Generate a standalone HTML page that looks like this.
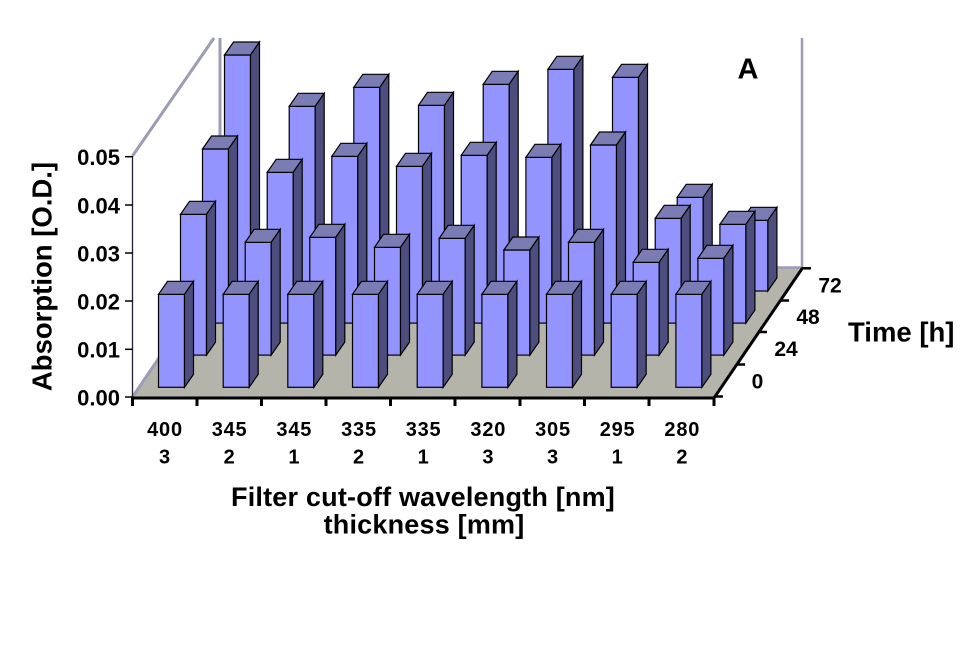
<!DOCTYPE html>
<html><head><meta charset="utf-8"><style>
html,body{margin:0;padding:0;background:#fff;}
svg{display:block;}
text{font-family:"Liberation Sans",Arial,sans-serif;font-weight:bold;fill:#000;}
.f{fill:#9494FF;stroke:#000;stroke-width:1.2;}
.t{fill:#7C7CB4;stroke:#000;stroke-width:1.2;}
.s{fill:#4E4E7E;stroke:#000;stroke-width:1.2;}
</style></head><body>
<svg width="975" height="650" viewBox="0 0 975 650" xmlns="http://www.w3.org/2000/svg">
<rect width="975" height="650" fill="#fff"/>
<!-- floor -->
<polygon points="132,397 714,397 802,268 220,268" fill="#B4B4AA"/>
<!-- walls -->
<g stroke="#9C9CB6" fill="none">
<line x1="132.5" y1="156" x2="214" y2="38" stroke-width="3"/>
<line x1="220" y1="38" x2="220" y2="268" stroke-width="3"/>
<line x1="132.5" y1="397" x2="220" y2="268" stroke-width="3"/>
<line x1="220" y1="267.5" x2="802" y2="267.5" stroke-width="2.5"/>
<line x1="802" y1="38" x2="802" y2="268" stroke-width="2.5"/>
</g>
<!-- y axis -->
<line x1="132.5" y1="156" x2="132.5" y2="398" stroke="#222233" stroke-width="1.3"/>
<g stroke="#000" stroke-width="1.5">
<line x1="125" y1="156.7" x2="133" y2="156.7"/>
<line x1="125" y1="205" x2="133" y2="205"/>
<line x1="125" y1="253" x2="133" y2="253"/>
<line x1="125" y1="301" x2="133" y2="301"/>
<line x1="125" y1="349.3" x2="133" y2="349.3"/>
<line x1="125" y1="397" x2="133" y2="397"/>
</g>

<!-- Row 3 (72h) -->
<g transform="translate(224.5,291)"><rect class="f" y="-236" width="26" height="236"/><polygon class="t" points="0,-236 9,-249 35,-249 26,-236"/><polygon class="s" points="26,-236 35,-249 35,-13 26,0"/></g>
<g transform="translate(289.2,291)"><rect class="f" y="-184.7" width="26" height="184.7"/><polygon class="t" points="0,-184.7 9,-197.7 35,-197.7 26,-184.7"/><polygon class="s" points="26,-184.7 35,-197.7 35,-13 26,0"/></g>
<g transform="translate(353.8,291)"><rect class="f" y="-203.7" width="26" height="203.7"/><polygon class="t" points="0,-203.7 9,-216.7 35,-216.7 26,-203.7"/><polygon class="s" points="26,-203.7 35,-216.7 35,-13 26,0"/></g>
<g transform="translate(418.5,291)"><rect class="f" y="-185.7" width="26" height="185.7"/><polygon class="t" points="0,-185.7 9,-198.7 35,-198.7 26,-185.7"/><polygon class="s" points="26,-185.7 35,-198.7 35,-13 26,0"/></g>
<g transform="translate(483.2,291)"><rect class="f" y="-206.7" width="26" height="206.7"/><polygon class="t" points="0,-206.7 9,-219.7 35,-219.7 26,-206.7"/><polygon class="s" points="26,-206.7 35,-219.7 35,-13 26,0"/></g>
<g transform="translate(547.9,291)"><rect class="f" y="-221.7" width="26" height="221.7"/><polygon class="t" points="0,-221.7 9,-234.7 35,-234.7 26,-221.7"/><polygon class="s" points="26,-221.7 35,-234.7 35,-13 26,0"/></g>
<g transform="translate(612.5,291)"><rect class="f" y="-213.7" width="26" height="213.7"/><polygon class="t" points="0,-213.7 9,-226.7 35,-226.7 26,-213.7"/><polygon class="s" points="26,-213.7 35,-226.7 35,-13 26,0"/></g>
<g transform="translate(677.2,291)"><rect class="f" y="-93.7" width="26" height="93.7"/><polygon class="t" points="0,-93.7 9,-106.7 35,-106.7 26,-93.7"/><polygon class="s" points="26,-93.7 35,-106.7 35,-13 26,0"/></g>
<g transform="translate(741.9,291)"><rect class="f" y="-70.7" width="26" height="70.7"/><polygon class="t" points="0,-70.7 9,-83.7 35,-83.7 26,-70.7"/><polygon class="s" points="26,-70.7 35,-83.7 35,-13 26,0"/></g>

<!-- Row 2 (48h) -->
<g transform="translate(202.5,323.1)"><rect class="f" y="-174.1" width="26" height="174.1"/><polygon class="t" points="0,-174.1 9,-187.1 35,-187.1 26,-174.1"/><polygon class="s" points="26,-174.1 35,-187.1 35,-13 26,0"/></g>
<g transform="translate(267.2,323.1)"><rect class="f" y="-150.8" width="26" height="150.8"/><polygon class="t" points="0,-150.8 9,-163.8 35,-163.8 26,-150.8"/><polygon class="s" points="26,-150.8 35,-163.8 35,-13 26,0"/></g>
<g transform="translate(331.8,323.1)"><rect class="f" y="-166.8" width="26" height="166.8"/><polygon class="t" points="0,-166.8 9,-179.8 35,-179.8 26,-166.8"/><polygon class="s" points="26,-166.8 35,-179.8 35,-13 26,0"/></g>
<g transform="translate(396.5,323.1)"><rect class="f" y="-156.8" width="26" height="156.8"/><polygon class="t" points="0,-156.8 9,-169.8 35,-169.8 26,-156.8"/><polygon class="s" points="26,-156.8 35,-169.8 35,-13 26,0"/></g>
<g transform="translate(461.2,323.1)"><rect class="f" y="-167.8" width="26" height="167.8"/><polygon class="t" points="0,-167.8 9,-180.8 35,-180.8 26,-167.8"/><polygon class="s" points="26,-167.8 35,-180.8 35,-13 26,0"/></g>
<g transform="translate(525.9,323.1)"><rect class="f" y="-165.8" width="26" height="165.8"/><polygon class="t" points="0,-165.8 9,-178.8 35,-178.8 26,-165.8"/><polygon class="s" points="26,-165.8 35,-178.8 35,-13 26,0"/></g>
<g transform="translate(590.5,323.1)"><rect class="f" y="-178.1" width="26" height="178.1"/><polygon class="t" points="0,-178.1 9,-191.1 35,-191.1 26,-178.1"/><polygon class="s" points="26,-178.1 35,-191.1 35,-13 26,0"/></g>
<g transform="translate(655.2,323.1)"><rect class="f" y="-104.8" width="26" height="104.8"/><polygon class="t" points="0,-104.8 9,-117.8 35,-117.8 26,-104.8"/><polygon class="s" points="26,-104.8 35,-117.8 35,-13 26,0"/></g>
<g transform="translate(719.9,323.1)"><rect class="f" y="-98.8" width="26" height="98.8"/><polygon class="t" points="0,-98.8 9,-111.8 35,-111.8 26,-98.8"/><polygon class="s" points="26,-98.8 35,-111.8 35,-13 26,0"/></g>

<!-- Row 1 (24h) -->
<g transform="translate(180.5,355.1)"><rect class="f" y="-140.8" width="26" height="140.8"/><polygon class="t" points="0,-140.8 9,-153.8 35,-153.8 26,-140.8"/><polygon class="s" points="26,-140.8 35,-153.8 35,-13 26,0"/></g>
<g transform="translate(245.2,355.1)"><rect class="f" y="-112.8" width="26" height="112.8"/><polygon class="t" points="0,-112.8 9,-125.8 35,-125.8 26,-112.8"/><polygon class="s" points="26,-112.8 35,-125.8 35,-13 26,0"/></g>
<g transform="translate(309.8,355.1)"><rect class="f" y="-117.8" width="26" height="117.8"/><polygon class="t" points="0,-117.8 9,-130.8 35,-130.8 26,-117.8"/><polygon class="s" points="26,-117.8 35,-130.8 35,-13 26,0"/></g>
<g transform="translate(374.5,355.1)"><rect class="f" y="-107.8" width="26" height="107.8"/><polygon class="t" points="0,-107.8 9,-120.8 35,-120.8 26,-107.8"/><polygon class="s" points="26,-107.8 35,-120.8 35,-13 26,0"/></g>
<g transform="translate(439.2,355.1)"><rect class="f" y="-116.8" width="26" height="116.8"/><polygon class="t" points="0,-116.8 9,-129.8 35,-129.8 26,-116.8"/><polygon class="s" points="26,-116.8 35,-129.8 35,-13 26,0"/></g>
<g transform="translate(503.9,355.1)"><rect class="f" y="-105.1" width="26" height="105.1"/><polygon class="t" points="0,-105.1 9,-118.1 35,-118.1 26,-105.1"/><polygon class="s" points="26,-105.1 35,-118.1 35,-13 26,0"/></g>
<g transform="translate(568.5,355.1)"><rect class="f" y="-112.8" width="26" height="112.8"/><polygon class="t" points="0,-112.8 9,-125.8 35,-125.8 26,-112.8"/><polygon class="s" points="26,-112.8 35,-125.8 35,-13 26,0"/></g>
<g transform="translate(633.2,355.1)"><rect class="f" y="-92.8" width="26" height="92.8"/><polygon class="t" points="0,-92.8 9,-105.8 35,-105.8 26,-92.8"/><polygon class="s" points="26,-92.8 35,-105.8 35,-13 26,0"/></g>
<g transform="translate(697.9,355.1)"><rect class="f" y="-96.8" width="26" height="96.8"/><polygon class="t" points="0,-96.8 9,-109.8 35,-109.8 26,-96.8"/><polygon class="s" points="26,-96.8 35,-109.8 35,-13 26,0"/></g>

<!-- Row 0 (0h) -->
<g transform="translate(158.5,387.3)"><rect class="f" y="-93" width="26" height="93"/><polygon class="t" points="0,-93 9,-106 35,-106 26,-93"/><polygon class="s" points="26,-93 35,-106 35,-13 26,0"/></g>
<g transform="translate(223.2,387.3)"><rect class="f" y="-93" width="26" height="93"/><polygon class="t" points="0,-93 9,-106 35,-106 26,-93"/><polygon class="s" points="26,-93 35,-106 35,-13 26,0"/></g>
<g transform="translate(287.8,387.3)"><rect class="f" y="-93" width="26" height="93"/><polygon class="t" points="0,-93 9,-106 35,-106 26,-93"/><polygon class="s" points="26,-93 35,-106 35,-13 26,0"/></g>
<g transform="translate(352.5,387.3)"><rect class="f" y="-93" width="26" height="93"/><polygon class="t" points="0,-93 9,-106 35,-106 26,-93"/><polygon class="s" points="26,-93 35,-106 35,-13 26,0"/></g>
<g transform="translate(417.2,387.3)"><rect class="f" y="-93" width="26" height="93"/><polygon class="t" points="0,-93 9,-106 35,-106 26,-93"/><polygon class="s" points="26,-93 35,-106 35,-13 26,0"/></g>
<g transform="translate(481.9,387.3)"><rect class="f" y="-93" width="26" height="93"/><polygon class="t" points="0,-93 9,-106 35,-106 26,-93"/><polygon class="s" points="26,-93 35,-106 35,-13 26,0"/></g>
<g transform="translate(546.5,387.3)"><rect class="f" y="-93" width="26" height="93"/><polygon class="t" points="0,-93 9,-106 35,-106 26,-93"/><polygon class="s" points="26,-93 35,-106 35,-13 26,0"/></g>
<g transform="translate(611.2,387.3)"><rect class="f" y="-93" width="26" height="93"/><polygon class="t" points="0,-93 9,-106 35,-106 26,-93"/><polygon class="s" points="26,-93 35,-106 35,-13 26,0"/></g>
<g transform="translate(675.9,387.3)"><rect class="f" y="-93" width="26" height="93"/><polygon class="t" points="0,-93 9,-106 35,-106 26,-93"/><polygon class="s" points="26,-93 35,-106 35,-13 26,0"/></g>

<!-- front axis -->
<g stroke="#000" stroke-width="3" fill="none" stroke-linecap="butt">
<line x1="131" y1="398" x2="715" y2="398"/>
<line x1="714" y1="398" x2="802.5" y2="268"/>
<line x1="132.5" y1="397" x2="132.5" y2="406"/>
<line x1="197" y1="397" x2="197" y2="406"/>
<line x1="261.5" y1="397" x2="261.5" y2="406"/>
<line x1="326" y1="397" x2="326" y2="406"/>
<line x1="390.5" y1="397" x2="390.5" y2="406"/>
<line x1="455" y1="397" x2="455" y2="406"/>
<line x1="520" y1="397" x2="520" y2="406"/>
<line x1="584.5" y1="397" x2="584.5" y2="406"/>
<line x1="649" y1="397" x2="649" y2="406"/>
<line x1="714" y1="397" x2="714" y2="406"/>
</g>
<g stroke="#000" stroke-width="2.5">
<line x1="714" y1="396.5" x2="723" y2="396.5"/>
<line x1="736" y1="364.5" x2="745" y2="364.5"/>
<line x1="758" y1="332" x2="767" y2="332"/>
<line x1="780" y1="300.5" x2="789" y2="300.5"/>
<line x1="802" y1="268.3" x2="811" y2="268.3"/>
</g>

<!-- y tick labels -->
<g font-size="22" text-anchor="end">
<text x="120" y="165">0.05</text>
<text x="120" y="213.3">0.04</text>
<text x="120" y="261.3">0.03</text>
<text x="120" y="309.3">0.02</text>
<text x="120" y="357.6">0.01</text>
<text x="120" y="405.3">0.00</text>
</g>
<text font-size="27.5" text-anchor="middle" transform="translate(51.5,276.5) rotate(-90)">Absorption [O.D.]</text>

<!-- category labels -->
<g font-size="20" text-anchor="middle" letter-spacing="0.8">
<text x="165" y="436">400</text><text x="229.6" y="436">345</text><text x="294.3" y="436">345</text>
<text x="359" y="436">335</text><text x="423.6" y="436">335</text><text x="488.3" y="436">320</text>
<text x="553" y="436">305</text><text x="617.6" y="436">295</text><text x="682.3" y="436">280</text>
<text x="165" y="463.3">3</text><text x="229.6" y="463.3">2</text><text x="294.3" y="463.3">1</text>
<text x="359" y="463.3">2</text><text x="423.6" y="463.3">1</text><text x="488.3" y="463.3">3</text>
<text x="553" y="463.3">3</text><text x="617.6" y="463.3">1</text><text x="682.3" y="463.3">2</text>
</g>
<g font-size="27" text-anchor="middle" letter-spacing="0.2">
<text x="423" y="506">Filter cut-off wavelength [nm]</text>
<text x="424" y="533.5">thickness [mm]</text>
</g>

<!-- depth labels -->
<g font-size="21" text-anchor="middle">
<text x="830" y="292.7">72</text>
<text x="808" y="324">48</text>
<text x="786" y="356">24</text>
<text x="757.5" y="388.3">0</text>
</g>
<text font-size="27.5" x="848" y="341.5">Time [h]</text>
<text font-size="29" x="748" y="78.3" text-anchor="middle">A</text>
</svg>
</body></html>
